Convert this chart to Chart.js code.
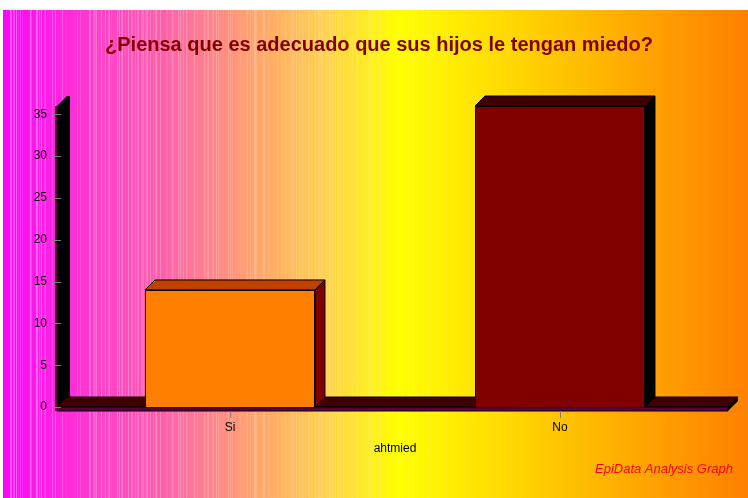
<!DOCTYPE html>
<html>
<head>
<meta charset="utf-8">
<script src="https://cdn.jsdelivr.net/npm/chart.js@4/dist/chart.umd.min.js"></script>
<style>
  html, body { margin: 0; padding: 0; background: #fff; }
  #wrap { width: 748px; height: 498px; }
</style>
</head>
<body>
<div id="wrap"><canvas id="chart" width="748" height="498"></canvas></div>
<script>
const categories = ["Si", "No"];
const counts = [14, 36];
const yTicks = [0, 5, 10, 15, 20, 25, 30, 35];

const frontColors = ["#ff8000", "#800000"];
const topColors = ["#c04000", "#400000"];
const sideColors = ["#800000", "#000000"];
const depth = 10;

function poly(ctx, pts, fill, stroke) {
  ctx.beginPath();
  ctx.moveTo(pts[0][0], pts[0][1]);
  for (let i = 1; i < pts.length; i++) ctx.lineTo(pts[i][0], pts[i][1]);
  ctx.closePath();
  ctx.fillStyle = fill;
  ctx.fill();
  if (stroke) {
    ctx.strokeStyle = stroke;
    ctx.lineWidth = 1;
    ctx.stroke();
  }
}

const backdrop = {
  id: "backdrop",
  beforeDraw: (chart) => {
    const { ctx, width, height } = chart;
    ctx.save();
    ctx.fillStyle = "#fff";
    ctx.fillRect(0, 0, width, height);
    const g = ctx.createLinearGradient(3, 0, width, 0);
    g.addColorStop(0, "#ff00ff");
    g.addColorStop(0.13, "#ff40c8");
    g.addColorStop(0.22, "#ff60a8");
    g.addColorStop(0.33, "#ffa070");
    g.addColorStop(0.43, "#ffd050");
    g.addColorStop(0.53, "#ffff00");
    g.addColorStop(0.68, "#ffd800");
    g.addColorStop(0.85, "#ffa800");
    g.addColorStop(1, "#ff8000");
    ctx.fillStyle = g;
    ctx.fillRect(3, 10, width - 3, height - 10);
    // light vertical streaks
    for (let x = 3; x < width; x++) {
      const t = (x - 3) / (width - 3);
      const h = Math.sin(x * 12.9898) * 43758.5453;
      const f = h - Math.floor(h);
      if (f > 0.55 && t < 0.72) {
        ctx.fillStyle = `rgba(255,255,255,${((f - 0.55) * 0.9 * (1 - t / 0.72)).toFixed(3)})`;
        ctx.fillRect(x, 10, 1, height - 10);
      }
    }
    ctx.restore();
  }
};

const frame3d = {
  id: "frame3d",
  beforeDatasetsDraw: (chart) => {
    const { ctx, chartArea, scales } = chart;
    const top = chartArea.top;
    const bottom = scales.y.getPixelForValue(0);
    const left = chartArea.left - 8;
    const right = chartArea.right + 3;
    ctx.save();
    // back wall
    poly(ctx, [[left, top], [left + depth, top - depth], [left + 13, top - depth],
               [left + 13, bottom - depth], [left, bottom]], "#000");
    // floor
    poly(ctx, [[left, bottom], [left + depth, bottom - depth], [right + depth, bottom - depth],
               [right, bottom]], "#3e0000", "#000");
    poly(ctx, [[left, bottom], [right, bottom], [right, bottom + 4], [left, bottom + 4]], "#5a0040", "#000");
    poly(ctx, [[right, bottom], [right + depth, bottom - depth], [right + depth, bottom - depth + 4],
               [right, bottom + 4]], "#000");
    // wall front edge
    ctx.strokeStyle = "#5a0030";
    ctx.lineWidth = 2;
    ctx.beginPath();
    ctx.moveTo(left - 1, top);
    ctx.lineTo(left - 1, bottom + 4);
    ctx.stroke();
    // tick marks
    ctx.strokeStyle = "#808080";
    ctx.lineWidth = 1;
    yTicks.forEach((v) => {
      const py = Math.round(scales.y.getPixelForValue(v)) + 0.5;
      ctx.beginPath();
      ctx.moveTo(left - 5, py);
      ctx.lineTo(left + 4, py);
      ctx.stroke();
    });
    categories.forEach((c, i) => {
      const px = Math.round(scales.x.getPixelForValue(i)) + 0.5;
      ctx.beginPath();
      ctx.moveTo(px, bottom + 4);
      ctx.lineTo(px, bottom + 11);
      ctx.stroke();
    });
    ctx.restore();
  },
  afterDatasetsDraw: (chart) => {
    const { ctx } = chart;
    const meta = chart.getDatasetMeta(0);
    ctx.save();
    meta.data.forEach((bar, i) => {
      const { x, y, base, width } = bar.getProps(["x", "y", "base", "width"], true);
      const l = x - width / 2, r = x + width / 2;
      poly(ctx, [[l, y], [l + depth, y - depth], [r + depth, y - depth], [r, y]], topColors[i], "#000");
      poly(ctx, [[r, y], [r + depth, y - depth], [r + depth, base - depth], [r, base]], sideColors[i], "#000");
    });
    ctx.restore();
  },
  afterDraw: (chart) => {
    const { ctx } = chart;
    ctx.save();
    ctx.font = "italic 13px Arial, 'Liberation Sans', sans-serif";
    ctx.fillStyle = "#ff0000";
    ctx.textAlign = "right";
    ctx.textBaseline = "middle";
    ctx.fillText("EpiData Analysis Graph", 733, 469);
    ctx.restore();
  }
};

new Chart(document.getElementById("chart"), {
  type: "bar",
  plugins: [backdrop, frame3d],
  data: {
    labels: categories,
    datasets: [{
      data: counts,
      backgroundColor: frontColors,
      borderColor: "#000",
      borderWidth: 1,
      categoryPercentage: 1,
      barPercentage: 0.515
    }]
  },
  options: {
    responsive: false,
    animation: false,
    layout: { padding: { left: 33, right: 23, top: 0, bottom: 0 } },
    plugins: {
      legend: { display: false },
      tooltip: { enabled: false },
      title: {
        display: true,
        text: "¿Piensa que es adecuado que sus hijos le tengan miedo?",
        color: "#800000",
        font: { family: "Arial, 'Liberation Sans', sans-serif", size: 20, weight: "bold" },
        padding: { top: 33, bottom: 49 }
      }
    },
    scales: {
      x: {
        grid: { display: false, drawTicks: false },
        border: { display: false },
        ticks: { color: "#000", padding: 13, font: { family: "Arial, 'Liberation Sans', sans-serif", size: 12 } },
        title: {
          display: true,
          text: "ahtmied",
          color: "#000",
          font: { family: "Arial, 'Liberation Sans', sans-serif", size: 12 },
          padding: { top: 0, bottom: 42 }
        },
        afterFit: (scale) => { scale.height = 91; }
      },
      y: {
        min: 0,
        max: 36,
        grid: { display: false, drawTicks: false },
        border: { display: false },
        ticks: { stepSize: 5, color: "#000", padding: 18, font: { family: "Arial, 'Liberation Sans', sans-serif", size: 12 } },
        afterBuildTicks: (scale) => {
          scale.ticks = yTicks.map((v) => ({ value: v }));
        },
        afterFit: (scale) => { scale.width = 32; }
      }
    }
  }
});
</script>
</body>
</html>
